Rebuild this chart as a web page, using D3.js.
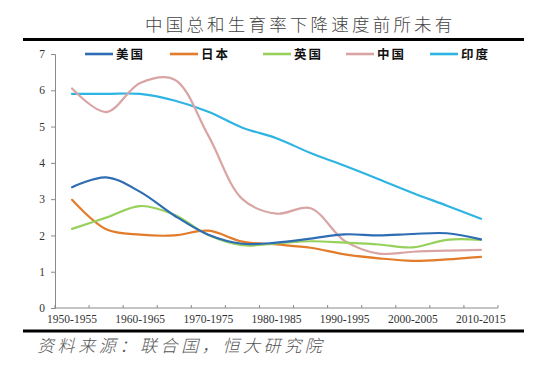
<!DOCTYPE html>
<html><head><meta charset="utf-8">
<script src="https://cdn.jsdelivr.net/npm/d3@7/dist/d3.min.js"></script>
<style>
html,body{margin:0;padding:0;background:#fff;}
svg{display:block;}
</style></head>
<body>
<svg id="c" width="554" height="365"></svg>
<script>
const categories = ["1950-1955","1955-1960","1960-1965","1965-1970","1970-1975","1975-1980","1980-1985","1985-1990","1990-1995","1995-2000","2000-2005","2005-2010","2010-2015"];
const usa   = [3.33,3.6,3.2,2.55,2.02,1.77,1.8,1.91,2.03,2.0,2.04,2.06,1.89];
const japan = [2.98,2.17,2.02,2.0,2.13,1.83,1.75,1.66,1.48,1.37,1.3,1.34,1.41];
const uk    = [2.18,2.49,2.81,2.57,2.01,1.73,1.78,1.84,1.8,1.75,1.67,1.88,1.88];
const china = [6.05,5.4,6.2,6.3,4.75,3.0,2.6,2.75,1.85,1.5,1.55,1.58,1.6];
const india = [5.9,5.9,5.9,5.72,5.41,4.97,4.68,4.27,3.92,3.55,3.17,2.82,2.46];
const seriesNames = ["美国","日本","英国","中国","印度"];
const yTicks = [0,1,2,3,4,5,6,7];
const title = "中国总和生育率下降速度前所未有";
const source = "资料来源：联合国，恒大研究院";

const series = [
  {name: seriesNames[0], values: usa,   color: "#2E6DB4"},
  {name: seriesNames[1], values: japan, color: "#E27B2A"},
  {name: seriesNames[2], values: uk,    color: "#97D05A"},
  {name: seriesNames[3], values: china, color: "#D9A4A4"},
  {name: seriesNames[4], values: india, color: "#2EB4E2"}
];

const svg = d3.select("#c");
const pLeft = 55, pRight = 498, pTop = 54, pBottom = 308;

const x = d3.scaleBand().domain(categories).range([pLeft, pRight]).padding(0);
const y = d3.scaleLinear().domain([0, 7]).range([pBottom, pTop]);

// title
svg.append("text").attr("x", 145).attr("y", 31)
  .attr("font-family", "'Noto Sans CJK SC'").attr("font-weight", 300)
  .attr("font-size", 17.5).attr("letter-spacing", 3.2).attr("fill", "#444")
  .text(title);

// thick rules
svg.append("rect").attr("x", 23).attr("y", 38).attr("width", 501).attr("height", 3).attr("fill", "#000");
svg.append("rect").attr("x", 23).attr("y", 329.5).attr("width", 501).attr("height", 3).attr("fill", "#000");

// y axis
const yAxis = d3.axisLeft(y).tickValues(yTicks).tickSize(4).tickFormat(d3.format("d"));
const gy = svg.append("g").attr("transform", `translate(${pLeft},0)`).call(yAxis);
gy.select(".domain").attr("stroke", "#8a8a8a");
gy.selectAll(".tick line").attr("stroke", "#8a8a8a");
gy.selectAll(".tick text").attr("font-family", "'Liberation Serif'").attr("font-size", 11.5).attr("fill", "#333").attr("x", -10);

// x axis
const xAxis = d3.axisBottom(x).tickSize(0).tickFormat((d, i) => i % 2 === 0 ? d : "");
const gx = svg.append("g").attr("transform", `translate(0,${pBottom})`).call(xAxis);
gx.select(".domain").attr("stroke", "#8a8a8a").attr("d", `M${pLeft},0H${pRight}`);
gx.selectAll(".tick text").attr("font-family", "'Liberation Serif'").attr("font-size", 11.5).attr("fill", "#333").attr("dy", "1.05em");
const bounds = categories.map(c => x(c)).concat([pRight]);
gx.selectAll(".bt").data(bounds).enter().append("line")
  .attr("x1", d => d).attr("x2", d => d).attr("y1", 0).attr("y2", -3)
  .attr("stroke", "#8a8a8a");

// lines
const line = d3.line()
  .x((d, i) => x(categories[i]) + x.bandwidth() / 2)
  .y(d => y(d))
  .curve(d3.curveCatmullRom.alpha(0.5));

const drawOrder = [4, 3, 1, 2, 0];
drawOrder.forEach(k => {
  const s = series[k];
  svg.append("path").datum(s.values)
    .attr("d", line).attr("fill", "none")
    .attr("stroke", s.color).attr("stroke-width", 2.2)
    .attr("stroke-linecap", "round");
});

// legend
const legendX = [85, 170, 263, 346, 430];
series.forEach((s, i) => {
  const g = svg.append("g").attr("transform", `translate(${legendX[i]},54)`);
  g.append("line").attr("x1", 0).attr("x2", 28).attr("y1", 0).attr("y2", 0)
    .attr("stroke", s.color).attr("stroke-width", 2.6);
  g.append("text").attr("x", 31).attr("y", 4.5)
    .attr("font-family", "'Noto Sans CJK SC'").attr("font-weight", 700)
    .attr("font-size", 12.5).attr("letter-spacing", 2).attr("fill", "#111")
    .text(s.name);
});

// source
svg.append("text").attr("x", 37).attr("y", 352)
  .attr("font-family", "'Noto Sans CJK SC'").attr("font-weight", 300)
  .attr("font-size", 17).attr("font-style", "italic").attr("letter-spacing", 3.6)
  .attr("fill", "#555").text(source);
</script>
</body></html>
